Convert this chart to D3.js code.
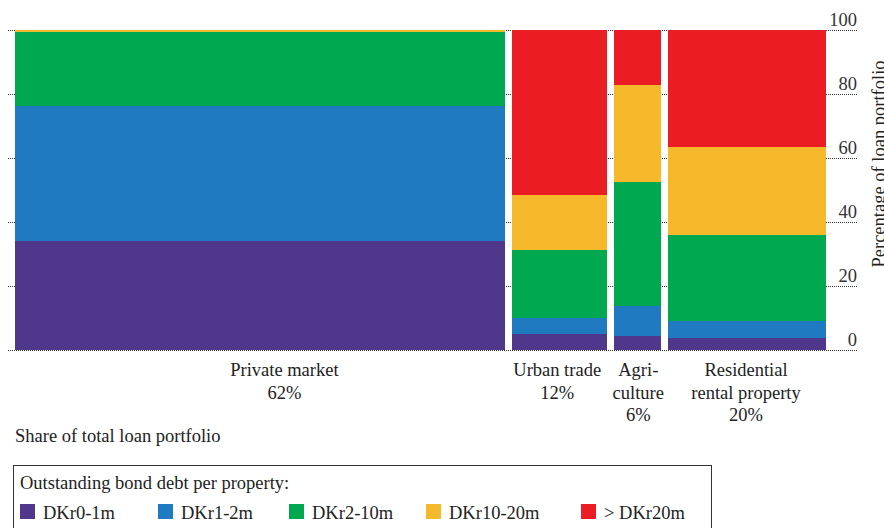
<!DOCTYPE html>
<html>
<head>
<meta charset="utf-8">
<script src="https://cdn.jsdelivr.net/npm/d3@7"></script>
<style>
  html, body { margin: 0; padding: 0; background: #fff; }
  svg { display: block; font-family: "Liberation Serif", "Times New Roman", serif; }
</style>
</head>
<body>
<svg id="chart" width="884" height="528"></svg>
<script>
// ---- data ----
const categories = ["Private market", "Urban trade", "Agriculture", "Residential rental property"];
const categoryLabelLines = [
  ["Private market", "62%"],
  ["Urban trade", "12%"],
  ["Agri-", "culture", "6%"],
  ["Residential", "rental property", "20%"]
];
const shares = [62, 12, 6, 20];
const seriesNames = ["DKr0-1m", "DKr1-2m", "DKr2-10m", "DKr10-20m", "> DKr20m"];
const dkr0to1 = [34.2, 5.0, 4.4, 3.8];
const dkr1to2 = [42.0, 5.1, 9.5, 5.3];
const dkr2to10 = [23.1, 21.1, 38.6, 26.8];
const dkr10to20 = [0.7, 17.2, 30.3, 27.5];
const dkrOver20 = [0.0, 51.6, 17.2, 36.6];
const yTicks = [0, 20, 40, 60, 80, 100];
const seriesColors = ["#4f378b", "#1f7ac1", "#00a94f", "#f6b92b", "#ec1c24"];

const seriesValues = [dkr0to1, dkr1to2, dkr2to10, dkr10to20, dkrOver20];

// ---- layout ----
const svg = d3.select("#chart");
const plotLeft = 15, gap = 7, totalBarWidth = 790;
const gridLeft = 8, gridRight = 857;
const yTop = 30, yBottom = 350;

const w = d3.scaleLinear().domain([0, 100]).range([0, totalBarWidth]);
const y = d3.scaleLinear().domain([0, 100]).range([yBottom, yTop]);

// bar x positions
let cum = 0;
const bars = categories.map((c, i) => {
  const x0 = plotLeft + w(cum) + i * gap;
  const width = w(shares[i]);
  cum += shares[i];
  return { cat: c, i, x0, width };
});

// table for stack
const table = categories.map((c, i) => {
  const row = { cat: c };
  seriesNames.forEach((s, k) => row[s] = seriesValues[k][i]);
  return row;
});
const stacked = d3.stack().keys(seriesNames)(table);

// gridlines + axis (right side, labels above lines)
const axis = d3.axisLeft(y).tickValues(yTicks).tickSize(gridRight - gridLeft).tickPadding(0);
const gAxis = svg.append("g").attr("transform", `translate(${gridRight},0)`).call(axis);
gAxis.select(".domain").remove();
gAxis.selectAll(".tick line")
  .attr("stroke", "#333").attr("stroke-width", 1).attr("stroke-dasharray", "1,1")
  .attr("shape-rendering", "crispEdges");
gAxis.selectAll(".tick text")
  .attr("x", 0).attr("dy", "-5").attr("y", 0)
  .attr("text-anchor", "end")
  .attr("fill", "#333")
  .attr("font-size", "18.5px")
  .attr("font-family", "Liberation Serif, Times New Roman, serif");

// bars
const gBars = svg.append("g");
stacked.forEach((layer, k) => {
  gBars.selectAll(null).data(layer).enter().append("rect")
    .attr("x", (d, i) => bars[i].x0)
    .attr("width", (d, i) => bars[i].width)
    .attr("y", d => y(d[1]))
    .attr("height", d => Math.max(0, y(d[0]) - y(d[1])))
    .attr("fill", seriesColors[k])
    .attr("shape-rendering", "crispEdges");
});

// category labels
const labelShift = [24.5, -2, 1, -1];
const gLab = svg.append("g").attr("font-size", "18.5px").attr("fill", "#222").attr("text-anchor", "middle");
bars.forEach((b, i) => {
  const t = gLab.append("text")
    .attr("x", b.x0 + b.width / 2 + labelShift[i])
    .attr("y", 376);
  categoryLabelLines[i].forEach((line, j) => {
    t.append("tspan").attr("x", b.x0 + b.width / 2 + labelShift[i]).attr("dy", j === 0 ? 0 : 22.5).text(line);
  });
});

// x axis title
svg.append("text").attr("x", 15).attr("y", 441.5)
  .attr("font-size", "18.5px").attr("fill", "#222")
  .text("Share of total loan portfolio");

// y axis title
svg.append("text")
  .attr("transform", "translate(884.5,267.5) rotate(-90)")
  .attr("font-size", "18.5px").attr("fill", "#222")
  .text("Percentage of loan portfolio");

// legend
const gLeg = svg.append("g");
gLeg.append("rect").attr("x", 13.5).attr("y", 465.5).attr("width", 698).attr("height", 80)
  .attr("fill", "none").attr("stroke", "#333").attr("stroke-width", 1);
gLeg.append("text").attr("x", 20).attr("y", 489)
  .attr("font-size", "18.5px").attr("fill", "#222")
  .text("Outstanding bond debt per property:");
const legendX = [20, 158, 289, 426, 581];
seriesNames.forEach((s, k) => {
  gLeg.append("rect").attr("x", legendX[k]).attr("y", 504).attr("width", 15).attr("height", 15)
    .attr("fill", seriesColors[k]);
  gLeg.append("text").attr("x", legendX[k] + 23).attr("y", 519)
    .attr("font-size", "18.5px").attr("fill", "#222")
    .text(s);
});
</script>
</body>
</html>
